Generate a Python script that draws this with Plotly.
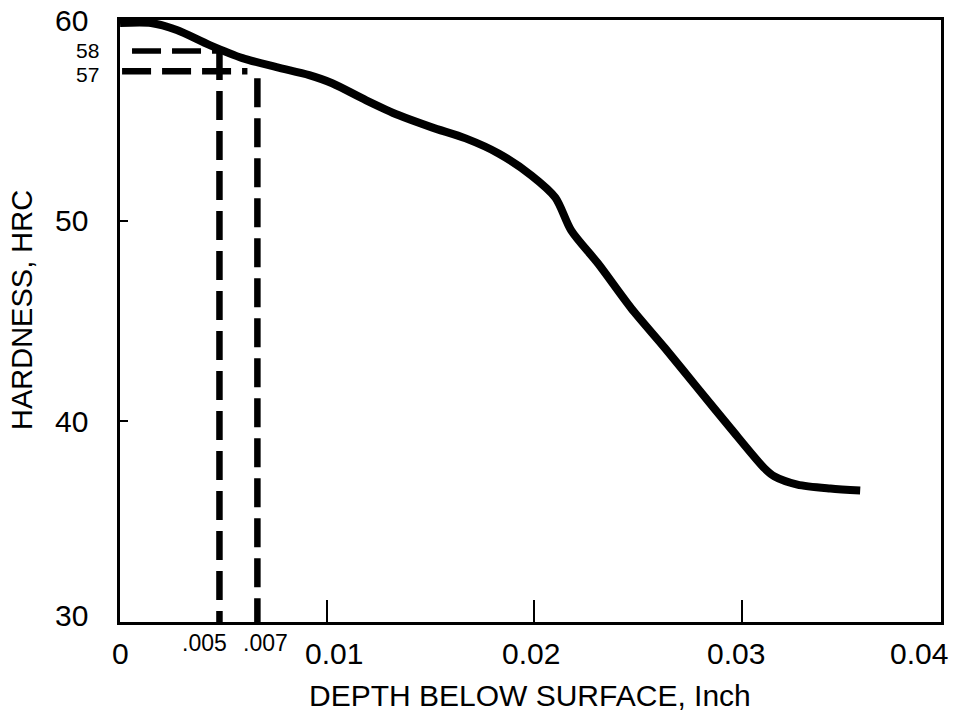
import plotly.graph_objects as go

# ---- data ----
depth_in = [0.0, 0.0015, 0.00274, 0.00433, 0.00591, 0.00755, 0.00913, 0.01024,
            0.01188, 0.01346, 0.01505, 0.01668, 0.01827, 0.01986, 0.02101,
            0.02178, 0.02308, 0.02466, 0.0263, 0.02788, 0.02947, 0.03111,
            0.03159, 0.03269, 0.03428, 0.03572]
hardness_hrc = [59.85, 59.85, 59.5, 58.75, 58.1, 57.65, 57.25, 56.85,
                56.0, 55.25, 54.65, 54.1, 53.35, 52.25, 51.15,
                49.5, 47.85, 45.65, 43.65, 41.65, 39.65, 37.65,
                37.25, 36.85, 36.65, 36.55]

# reference (dashed) lines
ref58_x = [0.00058, 0.0048]
ref58_y = [58.45, 58.45]
ref57_x = [0.0001, 0.00615]
ref57_y = [57.45, 57.45]
v005_x = [0.0048, 0.0048]
v005_y = [58.45, 30.0]
v007_x = [0.00663, 0.00663]
v007_y = [57.1, 30.0]

x_tick_vals = [0.0, 0.01, 0.02, 0.03]
x_tick_text = ["0", "0.01", "0.02", "0.03"]
x_extra_vals = [0.005, 0.007]
x_extra_text = [".005", ".007"]
y_tick_vals = [60, 50, 40, 30]
y_tick_text = ["60", "50", "40", "30"]
y_extra_vals = [58.5, 57.3]
y_extra_text = ["58", "57"]
x_title = "DEPTH BELOW SURFACE, Inch"
y_title = "HARDNESS, HRC"

FONT = "Liberation Sans, Arial, Helvetica, sans-serif"
X_MAX = 0.03962

fig = go.Figure()
fig.add_trace(go.Scatter(x=depth_in, y=hardness_hrc, mode="lines",
                         line=dict(color="black", width=8, shape="spline", smoothing=0.8),
                         hoverinfo="skip"))
for xs, ys, w in [(ref58_x, ref58_y, 5.5), (ref57_x, ref57_y, 6.5),
                  (v005_x, v005_y, 6.5), (v007_x, v007_y, 6.5)]:
    fig.add_trace(go.Scatter(x=xs, y=ys, mode="lines",
                             line=dict(color="black", width=w, dash="29px,11px"),
                             hoverinfo="skip"))

ann = []
# y tick labels
for v, t in zip(y_tick_vals, y_tick_text):
    ann.append(dict(x=0, xref="paper", y=v, yref="y", text=t, showarrow=False,
                    xanchor="right", yanchor="middle", xshift=-30,
                    yshift=(7 if v == 30 else 0),
                    font=dict(size=30, family=FONT, color="black")))
for v, t in zip(y_extra_vals, y_extra_text):
    ann.append(dict(x=0, xref="paper", y=v, yref="y", text=t, showarrow=False,
                    xanchor="right", yanchor="middle", xshift=-19,
                    font=dict(size=21, family=FONT, color="black")))
# x tick labels
x_shifts = {0.0: 0, 0.01: 7, 0.02: -3, 0.03: -6}
for v, t in zip(x_tick_vals, x_tick_text):
    ann.append(dict(x=v, xref="x", y=0, yref="paper", text=t, showarrow=False,
                    xanchor="center", yanchor="middle", xshift=x_shifts[v], yshift=-31,
                    font=dict(size=30, family=FONT, color="black")))
ann.append(dict(x=1, xref="paper", y=0, yref="paper", text="0.04", showarrow=False,
                xanchor="center", yanchor="middle", xshift=-22, yshift=-31,
                font=dict(size=30, family=FONT, color="black")))
extra_shift = {0.005: -19, 0.007: 0}
for v, t in zip(x_extra_vals, x_extra_text):
    ann.append(dict(x=v, xref="x", y=0, yref="paper", text=t, showarrow=False,
                    xanchor="center", yanchor="middle", xshift=extra_shift[v], yshift=-21,
                    font=dict(size=23, family=FONT, color="black")))
# axis titles (pixel-placed)
ann.append(dict(x=(531 - 120) / 824, xref="paper", y=0, yref="paper", text=x_title,
                showarrow=False, xanchor="center", yanchor="middle", yshift=-73,
                font=dict(size=30, family=FONT, color="black")))
ann.append(dict(x=0, xref="paper", y=(622 - 310) / 602, yref="paper", text=y_title,
                showarrow=False, textangle=-90, xanchor="center", yanchor="middle",
                xshift=-98, font=dict(size=29, family=FONT, color="black")))

fig.update_layout(
    width=953, height=715,
    margin=dict(l=120, r=9, t=20, b=93),
    paper_bgcolor="white", plot_bgcolor="white",
    showlegend=False,
    annotations=ann,
    font=dict(family=FONT, color="black"),
    xaxis=dict(range=[0, X_MAX], showgrid=False, zeroline=False,
               showline=True, linecolor="black", linewidth=2.5, mirror=True,
               tickvals=[0.01, 0.02, 0.03], ticks="inside", ticklen=22, tickwidth=2,
               tickcolor="black", showticklabels=False),
    yaxis=dict(range=[30, 60], showgrid=False, zeroline=False,
               showline=True, linecolor="black", linewidth=2.5, mirror=True,
               tickvals=[50, 40], ticks="inside", ticklen=8, tickwidth=2,
               tickcolor="black", showticklabels=False),
)

fig.write_html("out.html", config={"displayModeBar": False},
               post_script="document.body.style.margin='0px';")
